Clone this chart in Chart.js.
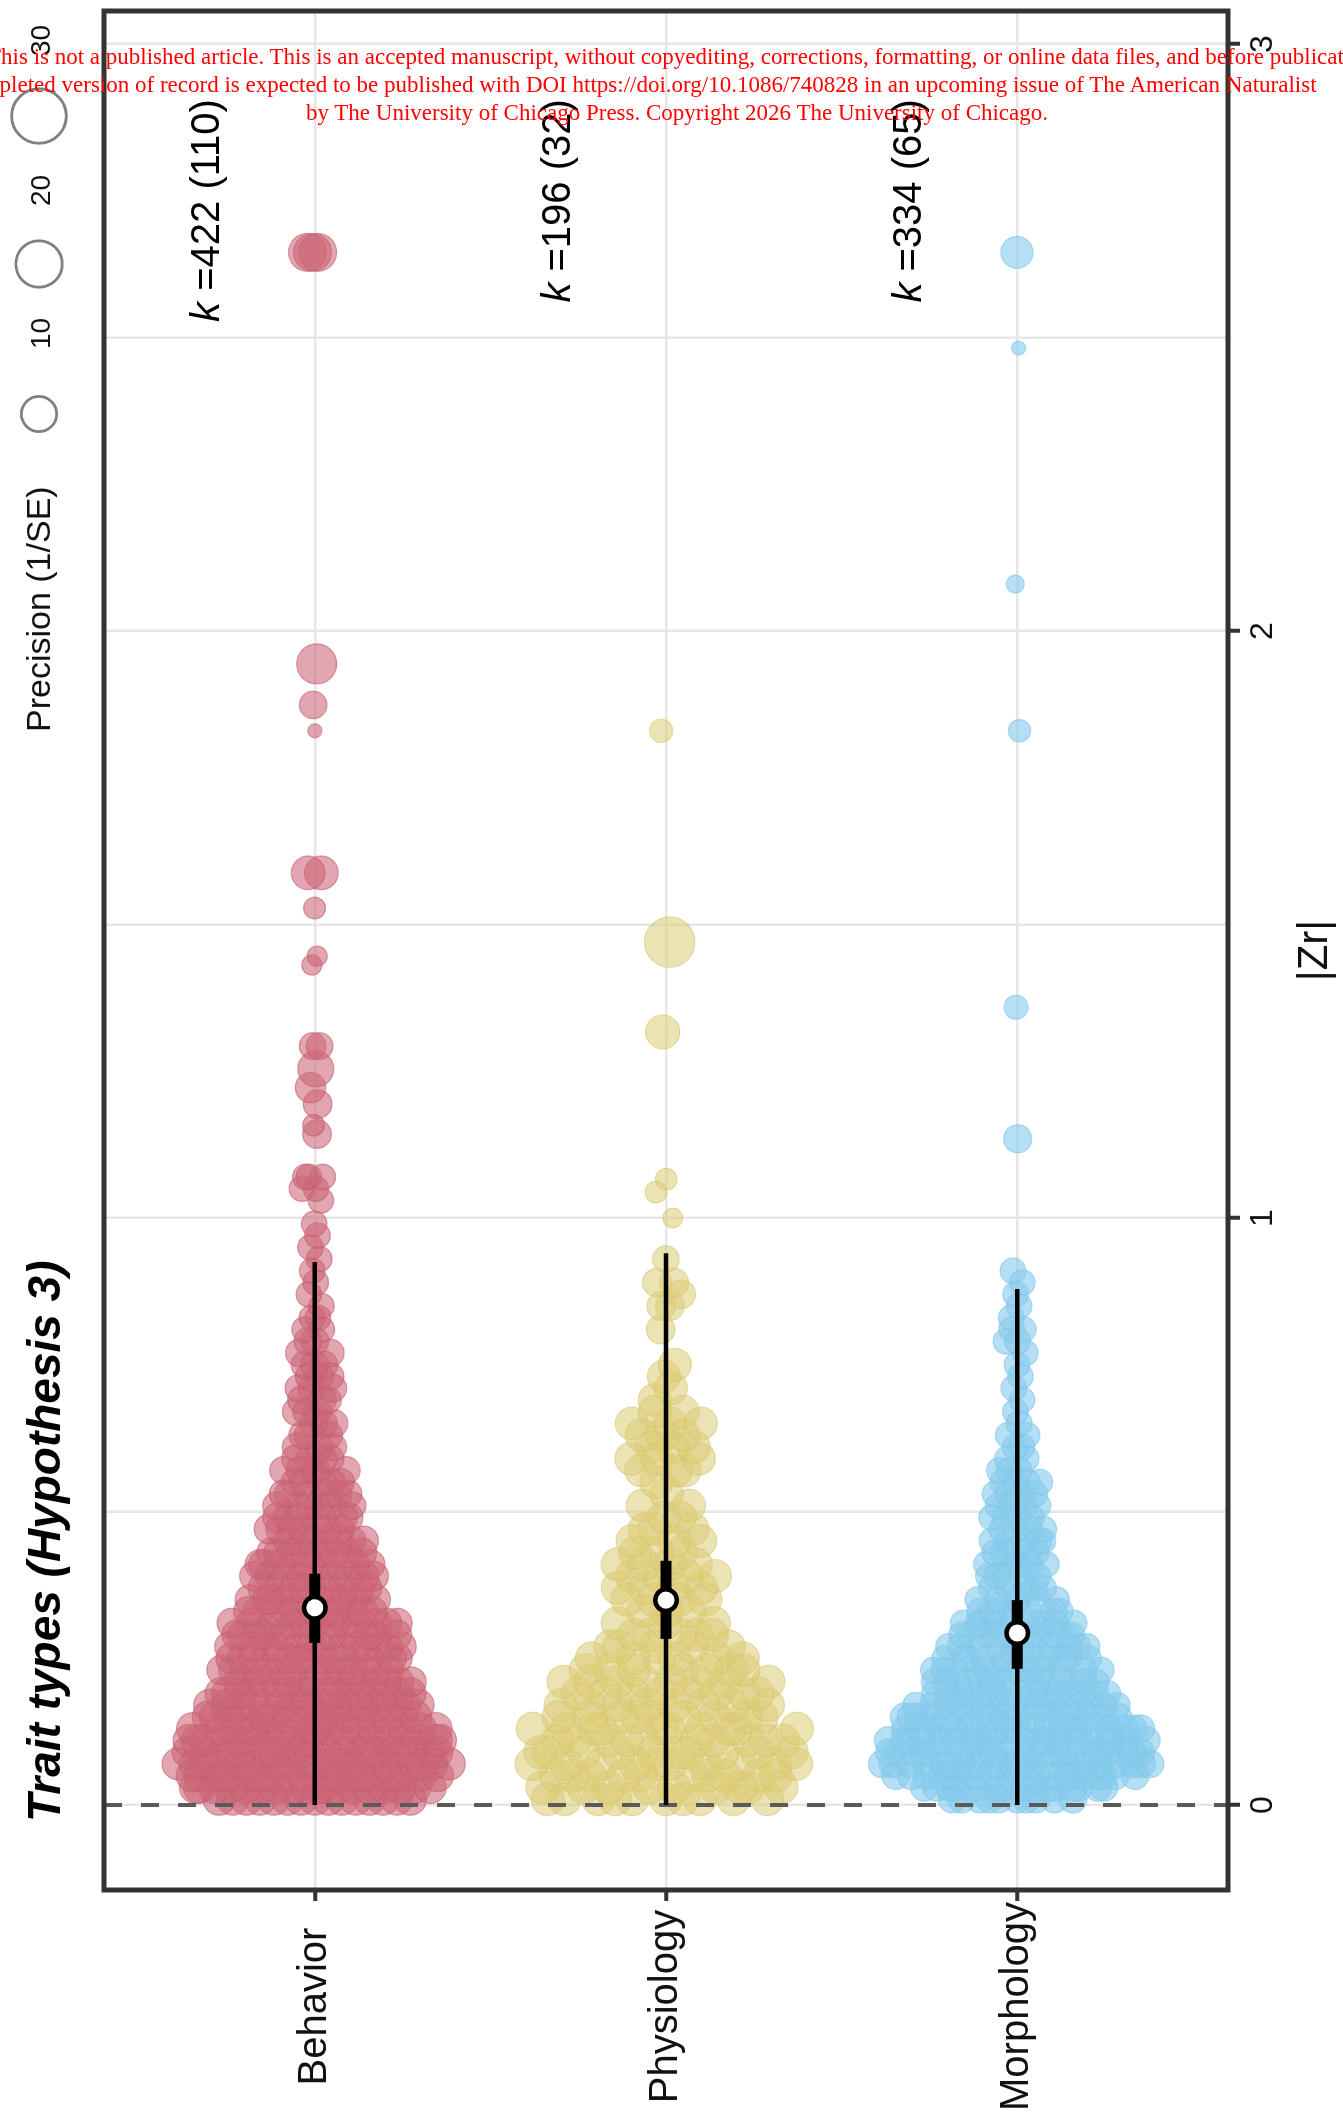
<!DOCTYPE html>
<html>
<head>
<meta charset="utf-8">
<title>Trait types (Hypothesis 3)</title>
<script src="https://cdn.jsdelivr.net/npm/chart.js@4.4.1/dist/chart.umd.min.js"></script>
<style>
  html, body { margin: 0; padding: 0; background: #fff; }
  body { width: 1343px; height: 2112px; position: relative; overflow: hidden; }
  /* the orchard plot is laid out horizontally and turned a quarter turn;
     the canvas is a little longer than the page so the bubble overflow margin falls outside it */
  #wrap { position: absolute; left: 0; top: 0; width: 2128px; height: 1343px;
          transform-origin: 0 0; transform: translate(0, 2112px) rotate(-90deg); }
  #note { position: absolute; left: 0; top: 0; width: 1343px; height: 140px; z-index: 5; pointer-events: none; }
  #note .ln { position: absolute; white-space: nowrap; color: #ff0000;
              font-family: "Liberation Serif", "DejaVu Serif", serif; font-size: 23px; line-height: 28px; }
</style>
</head>
<body>
<div id="wrap"><canvas id="c" width="2128" height="1343"></canvas></div>
<div id="note">
  <div class="ln" style="top:43px; left:-13px;">This is not a published article. This is an accepted manuscript, without copyediting, corrections, formatting, or online data files, and before publication. The</div>
  <div class="ln" style="top:71px; left:-40px;">completed version of record is expected to be published with DOI https://doi.org/10.1086/740828 in an upcoming issue of The American Naturalist</div>
  <div class="ln" style="top:99px; left:677px; transform:translateX(-50%);">by The University of Chicago Press. Copyright 2026 The University of Chicago.</div>
</div>
<script>
// ---- categories and summary estimates ----
const traitTypes = ['Behavior', 'Physiology', 'Morphology'];
const effectCount = [422, 196, 334];   // k
const studyCount  = [110, 32, 65];
const meanZr = [0.336, 0.349, 0.293];
const ciLow  = [0.276, 0.283, 0.232];
const ciHigh = [0.394, 0.416, 0.349];
const piLow  = [0, 0, 0];
const piHigh = [0.925, 0.940, 0.879];

// ---- axis ticks ----
const zrGrid = [0, 0.5, 1, 1.5, 2, 2.5, 3];
const zrLabelled = [0, 1, 2, 3];
const precisionKeys = [10, 20, 30];

// ---- effect sizes: |Zr| value, how many effects share it, precision (1/SE) ----
const behaviorZr = [0.01,0.03,0.05,0.07,0.09,0.11,0.13,0.15,0.17,0.19,0.21,0.23,0.25,0.27,0.29,0.31,0.33,0.35,0.37,0.39,
  0.41,0.43,0.45,0.47,0.49,0.51,0.53,0.55,0.57,0.59,0.61,0.63,0.65,0.67,0.69,0.71,0.73,0.75,0.77,0.79,
  0.81,0.83,0.85,0.87,0.89,0.91,0.93,0.95,0.97,0.99,1.03,1.05,1.07,
  1.143,1.158,1.194,1.222,1.254,1.293,1.431,1.446,1.528,1.588,1.83,1.874,1.944,2.645];
const behaviorN = [15,18,20,20,20,19,18,16,16,15,14,14,13,13,13,12,11,10,9,9,
  9,8,7,7,6,6,6,5,5,4,3,3,3,3,3,3,3,3,2,2,
  2,2,1,1,1,1,1,1,1,1,1,2,3,
  1,1,1,1,1,2,1,1,1,2,1,1,1,3];
const behaviorPrec = [8,8,8,8,8,8,8,8,8,8,6.5,6.5,6.5,6.5,6.5,6.5,6.5,6.5,6.5,6.5,
  6.5,6.5,6.5,6.5,6.5,5.5,5.5,5.5,5.5,5.5,5.5,5.5,5.5,5.5,5.5,5.5,5.5,5.5,5.5,5.5,
  4.5,4.5,4.5,4.5,4.5,4.5,4.5,4.5,4.5,4.5,4.5,4.5,4.5,
  6,3,6,7,10.6,5,2.5,2.5,3,9,1,5.4,13.8,12];

const physiologyZr = [0.01,0.03,0.05,0.07,0.09,0.11,0.13,0.15,0.17,0.19,0.21,0.23,0.25,0.27,0.29,0.31,0.33,0.35,0.37,0.39,
  0.41,0.43,0.45,0.47,0.49,0.51,0.53,0.55,0.57,0.59,0.61,0.63,0.65,0.67,0.69,0.71,0.73,0.75,
  0.81,0.85,0.87,0.89,0.93,
  1.0,1.044,1.066,1.317,1.47,1.83];
const physiologyN = [10,9,10,10,10,10,10,9,8,8,8,7,6,5,5,3,3,4,4,4,
  4,3,3,3,2,2,1,1,3,3,3,3,3,2,1,1,1,1,
  1,2,1,2,1,
  1,1,1,1,1,1];
const physiologyPrec = [8.5,8.5,8.5,8.5,8.5,8.5,8.5,8.5,8.5,8.5,8.5,8.5,8.5,8.5,8.5,8.5,8.5,8.5,8.5,8.5,
  8.5,8.5,8.5,8.5,8.5,8.5,8.5,8.5,8.5,8.5,8.5,8.5,8.5,8.5,8.5,8.5,8.5,8.5,
  6,6,6,6,5,
  2.4,3,3,9.2,24.6,3.6];

const morphologyZr = [0.01,0.03,0.05,0.07,0.09,0.11,0.13,0.15,0.17,0.19,0.21,0.23,0.25,0.27,0.29,0.31,0.33,0.35,0.37,0.39,
  0.41,0.43,0.45,0.47,0.49,0.51,0.53,0.55,0.57,0.59,0.61,0.63,0.65,0.67,0.69,0.71,0.73,0.75,0.77,0.79,
  0.81,0.83,0.85,0.87,0.89,0.91,
  1.135,1.359,1.83,2.08,2.482,2.645];
const morphologyN = [10,15,20,21,21,21,19,17,16,15,14,13,12,11,10,10,7,6,5,5,
  5,5,5,4,4,4,4,4,3,2,2,2,1,1,1,1,1,1,1,2,
  2,1,1,1,1,1,
  1,1,1,1,1,1];
const morphologyPrec = [5.5,5.5,5.5,5.5,5.5,5.5,5.5,5.5,4.6,4.6,4.6,4.6,4.6,4.6,4.6,4.6,4.6,4.6,4.6,4.6,
  4.6,4.6,4.6,4.6,4.6,4.6,4.6,4.6,4.6,4.6,4.6,4.6,4.6,4.6,4.6,4.6,4.6,4.6,4.6,4.6,
  4.6,4.6,4.6,4.6,4.6,4.6,
  5.7,3.9,3.2,1.9,1,7.9];

const fillColours   = ['rgba(204,102,119,0.58)', 'rgba(221,204,119,0.55)', 'rgba(136,204,238,0.62)'];
const borderColours = ['rgba(196,92,110,0.6)', 'rgba(212,196,104,0.55)', 'rgba(126,196,232,0.6)'];

const FONT = '"Liberation Sans", Arial, Helvetica, sans-serif';

// bubble radius (px) for a precision value
function radiusFor(p) { return 7 * Math.pow(p, 0.4); }

// van der Corput sequence, base 2
function vdc(n) { let v = 0, d = 1; while (n > 0) { d *= 2; v += (n % 2) / d; n = Math.floor(n / 2); } return v; }

// quasirandom (density-shaped) spread around each category centre
const SWARM_HALF = 0.395;
function swarm(zr, n, prec, cat) {
  const pts = [];
  zr.forEach((v, i) => { for (let k = 0; k < n[i]; k++) pts.push({ v: v, p: prec[i] }); });
  pts.sort((a, b) => a.v - b.v);
  const bw = 0.02, nb = Math.ceil(3.2 / bw);
  const cnt = new Array(nb).fill(0);
  pts.forEach(o => cnt[Math.floor(o.v / bw)]++);
  const sm = cnt.map((c, i) => 0.25 * (i === 0 ? c : cnt[i - 1]) + 0.5 * c + 0.25 * (cnt[i + 1] || 0));
  const mx = Math.max(...sm);
  return pts.map((o, j) => {
    const d = sm[Math.floor(o.v / bw)] / mx;
    return { x: o.v, y: cat + SWARM_HALF * d * (2 * vdc(j + 1) - 1), r: radiusFor(o.p) };
  });
}

const groups = [
  [behaviorZr, behaviorN, behaviorPrec],
  [physiologyZr, physiologyN, physiologyPrec],
  [morphologyZr, morphologyN, morphologyPrec]
];

const datasets = [];
groups.forEach((g, i) => {
  datasets.push({
    type: 'bubble', label: traitTypes[i], order: 10,
    data: swarm(g[0], g[1], g[2], i + 1),
    backgroundColor: fillColours[i], borderColor: borderColours[i], borderWidth: 1.2
  });
});
// reference line at |Zr| = 0
datasets.push({
  type: 'line', order: 5, data: [{ x: 0, y: 0.4 }, { x: 0, y: 3.6 }],
  borderColor: '#5a5a5a', borderWidth: 4, borderDash: [18, 19], pointRadius: 0, fill: false
});
traitTypes.forEach((t, i) => {
  datasets.push({
    type: 'line', order: 3, data: [{ x: piLow[i], y: i + 1 }, { x: piHigh[i], y: i + 1 }],
    borderColor: '#000', borderWidth: 4.5, borderCapStyle: 'butt', pointRadius: 0, fill: false
  });
  datasets.push({
    type: 'line', order: 2, data: [{ x: ciLow[i], y: i + 1 }, { x: ciHigh[i], y: i + 1 }],
    borderColor: '#000', borderWidth: 11, borderCapStyle: 'butt', pointRadius: 0, fill: false
  });
  datasets.push({
    type: 'bubble', order: 1, data: [{ x: meanZr[i], y: i + 1, r: 10.8 }],
    backgroundColor: '#fff', borderColor: '#000', borderWidth: 4.5
  });
});

// panel frame, title, size key and k annotations
const decor = {
  id: 'decor',
  afterDraw(chart) {
    const { ctx, chartArea: a, scales } = chart;
    ctx.save();
    ctx.strokeStyle = '#333';
    ctx.lineWidth = 5;
    ctx.strokeRect(a.left, a.top, a.right - a.left, a.bottom - a.top);

    ctx.fillStyle = '#000';
    ctx.textAlign = 'left';
    ctx.textBaseline = 'alphabetic';
    ctx.font = 'italic bold 46px ' + FONT;
    ctx.fillText('Trait types (Hypothesis 3)', 290, 60);

    ctx.fillStyle = '#111';
    ctx.font = '34px ' + FONT;
    ctx.fillText('Precision (1/SE)', 1380, 50);
    const keyX = [1698, 1848, 1996];
    const keyLabelX = [1763, 1906, 2056];
    precisionKeys.forEach((p, i) => {
      ctx.beginPath();
      ctx.arc(keyX[i], 39, radiusFor(p), 0, Math.PI * 2);
      ctx.strokeStyle = '#808080';
      ctx.lineWidth = 2.8;
      ctx.stroke();
      ctx.font = '28px ' + FONT;
      ctx.fillStyle = '#111';
      ctx.fillText(String(p), keyLabelX[i], 50);
    });

    const right = scales.x.getPixelForValue(2.906);
    traitTypes.forEach((t, i) => {
      const y = scales.y.getPixelForValue(i + 1 - 0.305);
      const rest = ' =' + effectCount[i] + ' (' + studyCount[i] + ')';
      ctx.textBaseline = 'middle';
      ctx.font = '40px ' + FONT;
      const wRest = ctx.measureText(rest).width;
      ctx.font = 'italic 40px ' + FONT;
      const wK = ctx.measureText('k').width;
      const x0 = right - wRest - wK;
      ctx.fillStyle = '#000';
      ctx.fillText('k', x0, y);
      ctx.font = '40px ' + FONT;
      ctx.fillText(rest, x0 + wK, y);
    });
    ctx.restore();
  }
};

new Chart(document.getElementById('c'), {
  type: 'bubble',
  data: { datasets: datasets },
  options: {
    responsive: false,
    animation: false,
    devicePixelRatio: 1,
    events: [],
    layout: { padding: { top: 104, right: 27, left: 0, bottom: 0 } },
    plugins: { legend: { display: false }, tooltip: { enabled: false } },
    scales: {
      x: {
        type: 'linear', position: 'bottom', min: -0.1448, max: 3.0562,
        afterBuildTicks: ax => { ax.ticks = zrGrid.map(v => ({ value: v })); },
        afterFit: ax => { ax.height = 115; },
        border: { display: false },
        grid: {
          color: '#e6e6e6', lineWidth: 2.5, drawTicks: true, tickLength: 12, tickWidth: 4,
          tickColor: c => (c.tick && zrLabelled.includes(c.tick.value)) ? '#333' : 'rgba(0,0,0,0)'
        },
        ticks: {
          autoSkip: false, maxRotation: 0, minRotation: 0, padding: 4, color: '#111',
          font: { family: FONT, size: 32 },
          callback: v => zrLabelled.includes(v) ? String(v) : ''
        },
        title: { display: true, text: '|Zr|', color: '#111', font: { family: FONT, size: 42 }, padding: { top: 0, bottom: 2 } }
      },
      y: {
        type: 'linear', position: 'left', min: 0.4, max: 3.6, reverse: true,
        afterBuildTicks: ax => { ax.ticks = traitTypes.map((t, i) => ({ value: i + 1 })); },
        afterFit: ax => { ax.width = 222; },
        border: { display: false },
        grid: { color: '#e6e6e6', lineWidth: 2.5, drawTicks: true, tickLength: 11, tickWidth: 4, tickColor: '#333' },
        ticks: {
          autoSkip: false, padding: 1, crossAlign: 'center', color: '#111',
          font: { family: FONT, size: 40 },
          callback: v => traitTypes[Math.round(v) - 1]
        }
      }
    }
  },
  plugins: [decor]
});
</script>
</body>
</html>
